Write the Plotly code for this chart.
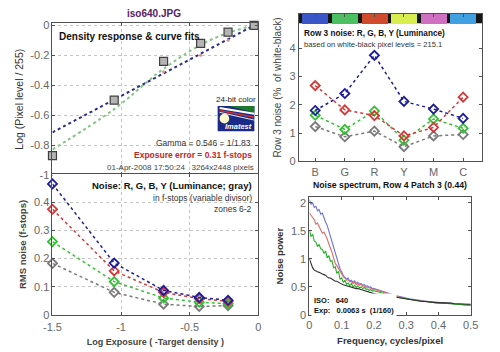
import plotly.graph_objects as go

W, H = 500, 352
FONT = "Liberation Sans, Arial, sans-serif"

# ---------------- data ----------------
# Density response (top-left)
dens_x = [-1.5, -1.05, -0.69, -0.42, -0.22, -0.03]
dens_y = [-0.87, -0.50, -0.24, -0.12, -0.045, 0.0]
fit_blue_x = [-1.5, -0.03]
fit_blue_y = [-0.715, 0.0]
fit_green_x = [-1.5, -1.05, -0.80, -0.69, -0.42, -0.22, -0.03]
fit_green_y = [-0.83, -0.56, -0.37, -0.29, -0.13, -0.05, 0.0]
pink_x = [-0.69, -0.42, -0.22]
pink_y = [-0.31, -0.20, -0.10]

# Noise in f-stops (bottom-left)
noise_x = [-1.5, -1.05, -0.69, -0.43, -0.22]
noise_B = [0.465, 0.184, 0.087, 0.062, 0.052]
noise_R = [0.375, 0.156, 0.080, 0.058, 0.048]
noise_G = [0.260, 0.118, 0.060, 0.045, 0.040]
noise_Y = [0.183, 0.080, 0.038, 0.030, 0.033]

# Row 3 noise (top-right)
patches = ["B", "G", "R", "Y", "M", "C"]
strip_colors = ["#3a55c8", "#4cc060", "#d04a2c", "#d8ee50", "#d070c0", "#40a0e0"]
row3_B = [1.80, 2.40, 3.75, 2.12, 1.85, 1.52]
row3_R = [2.68, 1.82, 1.62, 0.90, 1.20, 2.27]
row3_G = [1.63, 1.13, 1.78, 0.75, 1.50, 1.17]
row3_Y = [1.23, 0.87, 1.07, 0.52, 0.90, 0.95]

# Noise spectrum (bottom-right)
freq = [0.000, 0.005, 0.010, 0.015, 0.020, 0.025, 0.030, 0.035, 0.040, 0.045,
        0.050, 0.055, 0.060, 0.065, 0.070, 0.075, 0.080, 0.085, 0.090, 0.095,
        0.100, 0.105, 0.110, 0.115, 0.120, 0.125, 0.130, 0.135, 0.140, 0.145,
        0.150, 0.155, 0.160, 0.165, 0.170, 0.175, 0.180, 0.185, 0.190, 0.195,
        0.200, 0.21, 0.22, 0.23, 0.24, 0.25, 0.26, 0.27, 0.28, 0.29,
        0.30, 0.31, 0.32, 0.33, 0.34, 0.35, 0.36, 0.37, 0.38, 0.39,
        0.40, 0.41, 0.42, 0.43, 0.44, 0.45, 0.46, 0.47, 0.48, 0.49, 0.50]
spec_B = [2.06, 1.98, 2.00, 1.92, 1.94, 1.86, 1.88, 1.80, 1.82, 1.72,
          1.66, 1.60, 1.50, 1.40, 1.28, 1.20, 1.10, 0.98, 0.90, 0.82,
          0.77, 0.70, 0.67, 0.64, 0.66, 0.60, 0.62, 0.58, 0.61, 0.57,
          0.58, 0.55, 0.56, 0.53, 0.54, 0.51, 0.52, 0.49, 0.50, 0.47,
          0.47, 0.45, 0.43, 0.41, 0.40, 0.37, 0.36, 0.34, 0.33, 0.31,
          0.30, 0.29, 0.28, 0.27, 0.26, 0.25, 0.24, 0.24, 0.23, 0.23,
          0.22, 0.22, 0.21, 0.21, 0.20, 0.20, 0.20, 0.19, 0.19, 0.18, 0.18]
spec_R = [1.82, 1.78, 1.74, 1.70, 1.62, 1.64, 1.58, 1.52, 1.46, 1.48,
          1.43, 1.36, 1.27, 1.20, 1.12, 1.02, 0.92, 0.88, 0.83, 0.76,
          0.72, 0.68, 0.66, 0.62, 0.63, 0.59, 0.60, 0.56, 0.58, 0.54,
          0.56, 0.53, 0.55, 0.51, 0.52, 0.49, 0.50, 0.48, 0.48, 0.46,
          0.46, 0.44, 0.42, 0.40, 0.38, 0.36, 0.35, 0.33, 0.32, 0.30,
          0.29, 0.28, 0.27, 0.26, 0.25, 0.25, 0.24, 0.23, 0.23, 0.22,
          0.22, 0.21, 0.21, 0.20, 0.20, 0.20, 0.19, 0.19, 0.18, 0.18, 0.17]
spec_G = [1.52, 1.40, 1.44, 1.32, 1.30, 1.22, 1.26, 1.18, 1.17, 1.10,
          1.14, 1.02, 1.06, 0.96, 0.97, 0.84, 0.86, 0.74, 0.78, 0.64,
          0.66, 0.58, 0.62, 0.55, 0.57, 0.52, 0.56, 0.50, 0.53, 0.49,
          0.52, 0.48, 0.50, 0.47, 0.49, 0.46, 0.46, 0.44, 0.45, 0.43,
          0.43, 0.42, 0.40, 0.38, 0.37, 0.35, 0.34, 0.32, 0.31, 0.30,
          0.28, 0.28, 0.26, 0.26, 0.25, 0.24, 0.24, 0.23, 0.22, 0.22,
          0.21, 0.21, 0.21, 0.20, 0.20, 0.19, 0.19, 0.19, 0.18, 0.18, 0.17]
spec_K = [1.00, 0.90, 0.84, 0.80, 0.78, 0.77, 0.76, 0.74, 0.73, 0.72,
          0.71, 0.68, 0.66, 0.66, 0.64, 0.62, 0.60, 0.60, 0.58, 0.56,
          0.55, 0.54, 0.53, 0.52, 0.51, 0.50, 0.50, 0.49, 0.48, 0.47,
          0.47, 0.46, 0.45, 0.44, 0.44, 0.43, 0.42, 0.41, 0.40, 0.39,
          0.38, 0.37, 0.36, 0.35, 0.34, 0.33, 0.32, 0.31, 0.30, 0.29,
          0.28, 0.27, 0.26, 0.26, 0.25, 0.24, 0.24, 0.23, 0.23, 0.22,
          0.22, 0.22, 0.21, 0.21, 0.21, 0.20, 0.20, 0.20, 0.20, 0.19, 0.19]

# ---------------- helpers ----------------
def px(x):
    return x / W

def py(y):
    return 1 - y / H

fig = go.Figure()

C_BLUE = "#1c1c9c"
C_RED = "#d23a3a"
C_GREEN = "#33c033"
C_GRAY = "#7a7a7a"

# ---- top-left: density response
fig.add_trace(go.Scatter(x=fit_blue_x, y=fit_blue_y, mode="lines",
                         line=dict(color="#2a2a90", width=2, dash="dot"),
                         xaxis="x", yaxis="y", cliponaxis=False))
fig.add_trace(go.Scatter(x=fit_green_x, y=fit_green_y, mode="lines",
                         line=dict(color="#84c484", width=2, dash="dot", shape="spline"),
                         xaxis="x", yaxis="y", cliponaxis=False))
fig.add_trace(go.Scatter(x=pink_x, y=pink_y, mode="markers",
                         marker=dict(color="#d89090", size=3),
                         xaxis="x", yaxis="y"))
fig.add_trace(go.Scatter(x=dens_x, y=dens_y, mode="markers",
                         marker=dict(symbol="square", size=8, color="#b4b4b4",
                                     line=dict(color="#404040", width=1.2)),
                         xaxis="x", yaxis="y", cliponaxis=False))

# ---- bottom-left: noise f-stops
for vals, col in [(noise_Y, C_GRAY), (noise_G, C_GREEN), (noise_R, C_RED), (noise_B, C_BLUE)]:
    fig.add_trace(go.Scatter(x=noise_x, y=vals, mode="lines+markers",
                             line=dict(color=col, width=1.5, dash="dot"),
                             marker=dict(symbol="diamond-open", size=7, color=col,
                                         line=dict(width=1.8, color=col)),
                             xaxis="x2", yaxis="y2", cliponaxis=False))

# ---- top-right: row 3 noise
fig.add_trace(go.Bar(x=patches, y=[0.34] * 6, base=4.88, width=0.88,
                     marker=dict(color=strip_colors, line=dict(width=0)),
                     xaxis="x3", yaxis="y3"))
for vals, col in [(row3_Y, C_GRAY), (row3_G, C_GREEN), (row3_R, C_RED), (row3_B, C_BLUE)]:
    fig.add_trace(go.Scatter(x=patches, y=vals, mode="lines+markers",
                             line=dict(color=col, width=1.5, dash="dot"),
                             marker=dict(symbol="diamond-open", size=7, color=col,
                                         line=dict(width=1.8, color=col)),
                             xaxis="x3", yaxis="y3", cliponaxis=False))

# ---- bottom-right: noise spectrum
for vals, col in [(spec_B, "#6a72d8"), (spec_R, "#e06a6a"), (spec_G, "#22b022"), (spec_K, "#303030")]:
    fig.add_trace(go.Scatter(x=freq, y=vals, mode="lines",
                             line=dict(color=col, width=1.1),
                             xaxis="x4", yaxis="y4"))

# ---------------- axes ----------------
tickfont = dict(family=FONT, size=11, color="#666666")
common = dict(showline=True, linecolor="#505050", linewidth=1, mirror="ticks",
              ticks="inside", ticklen=3, tickcolor="#505050", zeroline=False,
              tickfont=tickfont)
grid = dict(showgrid=True, gridcolor="#c4c4c4", griddash="dot", gridwidth=1)
nogrid = dict(showgrid=False)

fig.update_layout(
    width=W, height=H, margin=dict(l=0, r=0, t=0, b=0),
    paper_bgcolor="white", plot_bgcolor="white", showlegend=False,
    font=dict(family=FONT),
    xaxis=dict(domain=[px(45), px(258)], range=[-1.5, 0], anchor="y",
               tickvals=[-1.5, -1, -0.5, 0], showticklabels=False, **common, **grid),
    yaxis=dict(domain=[py(176), py(20)], range=[-1, 0.013], anchor="x",
               tickvals=[0, -0.2, -0.4, -0.6, -0.8, -1],
               ticktext=["0", "-0.2", "-0.4", "-0.6", "-0.8", "-1"],
               title=dict(text="Log (Pixel level / 255)", standoff=4,
                          font=dict(family=FONT, size=10.5, color="#333")),
               **common, **grid),
    xaxis2=dict(domain=[px(45), px(258)], range=[-1.5, 0], anchor="y2",
                tickvals=[-1.5, -1, -0.5, 0], ticktext=["-1.5", "-1", "-0.5", "0"],
                ticklabelstandoff=2,
                title=dict(text="<b>Log Exposure ( -Target density )</b>", standoff=6,
                           font=dict(family=FONT, size=9, color="#444")),
                **common, **grid),
    yaxis2=dict(domain=[py(320), py(175)], range=[0, 0.5], anchor="x2",
                tickvals=[0, 0.1, 0.2, 0.3, 0.4],
                title=dict(text="<b>RMS noise (f-stops)</b>", standoff=5,
                           font=dict(family=FONT, size=9.5, color="#444")),
                **common, **grid),
    xaxis3=dict(domain=[px(300), px(490)], range=[-0.556, 5.65], anchor="y3",
                type="category", **common, **nogrid),
    yaxis3=dict(domain=[py(162), py(10)], range=[0, 5.22], anchor="x3",
                tickvals=[0, 1, 2, 3, 4],
                title=dict(text="Row 3 noise (%  of white-black)", standoff=5,
                           font=dict(family=FONT, size=10, color="#444")),
                **common, **nogrid),
    xaxis4=dict(domain=[px(311), px(478)], range=[0, 0.5], anchor="y4",
                tickvals=[0, 0.1, 0.2, 0.3, 0.4, 0.5],
                title=dict(text="<b>Frequency, cycles/pixel</b>", standoff=7,
                           font=dict(family=FONT, size=9.5, color="#333")),
                **common, **nogrid),
    yaxis4=dict(domain=[py(320), py(199)], range=[0, 2.1], anchor="x4",
                tickvals=[0, 0.5, 1, 1.5, 2],
                title=dict(text="<b>Noise power</b>", standoff=5,
                           font=dict(family=FONT, size=9.5, color="#333")),
                **common, **nogrid),
    bargap=0,
)

# black background strip for the colour patches (top-right)
fig.add_shape(type="rect", xref="x3", yref="y3", x0=-0.556, x1=5.65, y0=4.88, y1=5.22,
              fillcolor="#151515", line=dict(width=0), layer="below")

# ---------------- annotations ----------------
def ann(text, x, y, size=9, color="#222", xanchor="left", yanchor="middle", bold=False, bg=None, italic=False, align="left"):
    t = text
    if bold:
        t = "<b>" + t + "</b>"
    if italic:
        t = "<i>" + t + "</i>"
    d = dict(text=t, x=px(x), y=py(y), xref="paper", yref="paper", showarrow=False,
             xanchor=xanchor, yanchor=yanchor, align=align, borderpad=0,
             font=dict(family=FONT, size=size, color=color))
    if bg:
        d["bgcolor"] = bg
        d["borderpad"] = 2
    fig.add_annotation(**d)

ann("iso640.JPG", 150, 10, size=10, color="#5a2060", xanchor="center", bold=True)
ann("Density response &amp; curve fits", 51, 33, size=10, color="#111", bold=True)
ann("24-bit color", 235, 98, size=8, color="#222", xanchor="center")
ann("Gamma = 0.546 = 1/1.83", 252, 143, size=8.5, color="#333", xanchor="right")
ann("Exposure error = 0.31 f-stops", 253, 155, size=8.5, color="#c02828", xanchor="right", bold=True)
ann("01-Apr-2008 17:50:24   3264x2448 pixels", 255, 168, size=8, color="#444", xanchor="right")

ann("Noise: R, G, B, Y (Luminance; gray)", 253, 187, size=9.5, color="#111", xanchor="right", bold=True)
ann("in f-stops (variable divisor)", 253, 200, size=8.5, color="#333", xanchor="right")
ann("zones 6-2", 253, 211, size=8.5, color="#333", xanchor="right")

ann("Row 3 noise: R, G, B, Y (Luminance)", 304, 30, size=8.2, color="#111", bold=True)
ann("based on white-black pixel levels = 215.1", 304, 42, size=7.6, color="#333")

ann("Noise spectrum, Row 4 Patch 3 (0.44)", 394, 186, size=8.7, color="#111", xanchor="center", bold=True)
ann("ISO:   640<br>Exp:   0.0063 s  (1/160)", 313, 310, size=7.5, color="#111", bold=True, bg="white")

# ---------------- Imatest logo ----------------
lx0, lx1, ly0, ly1 = 216, 254, 105, 131
fig.add_shape(type="rect", xref="paper", yref="paper", x0=px(lx0), x1=px(lx1), y0=py(ly1), y1=py(ly0),
              fillcolor="#1a2a88", line=dict(color="#1a2a88", width=0))
fig.add_shape(type="path", xref="paper", yref="paper",
              path=f"M {px(228)} {py(105)} L {px(254)} {py(105)} L {px(254)} {py(112)} Z",
              fillcolor="#1d7a2a", line=dict(width=0))
fig.add_shape(type="line", xref="paper", yref="paper", x0=px(218), y0=py(107), x1=px(254), y1=py(113),
              line=dict(color="white", width=2))
fig.add_shape(type="line", xref="paper", yref="paper", x0=px(218), y0=py(109.5), x1=px(254), y1=py(116.5),
              line=dict(color="#d03030", width=1.5))
fig.add_shape(type="line", xref="paper", yref="paper", x0=px(218), y0=py(111.5), x1=px(254), y1=py(119.5),
              line=dict(color="#e8e8f0", width=1))
fig.add_shape(type="circle", xref="paper", yref="paper", x0=px(218), x1=px(228), y0=py(123), y1=py(113),
              fillcolor="#fff8c8", line=dict(width=0))
ann("Imatest", 238, 126, size=7.5, color="white", xanchor="center", bold=True, italic=True)

fig.write_html("out.html")
